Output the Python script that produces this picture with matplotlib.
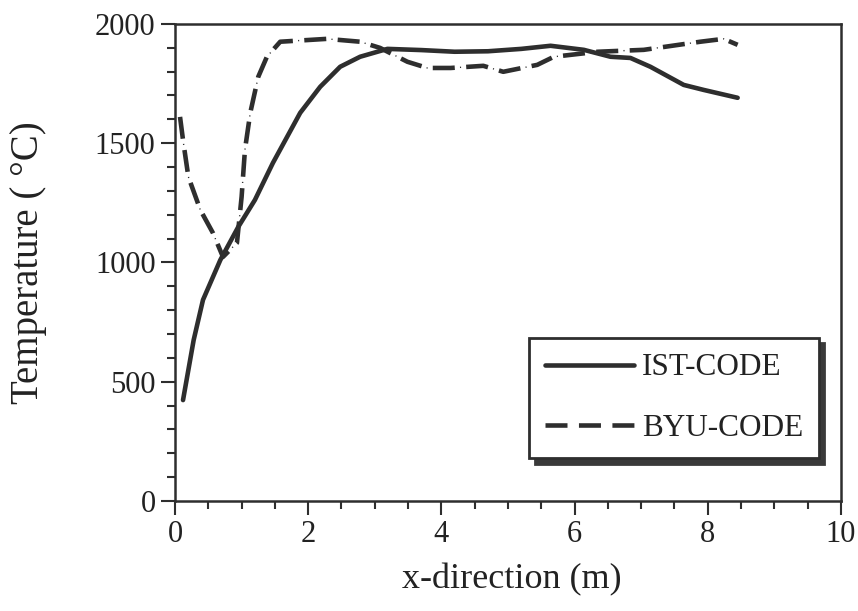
import matplotlib.pyplot as plt
from matplotlib.ticker import MultipleLocator

# IST-CODE (solid)
ist_x = [0.12, 0.28, 0.42, 0.68, 0.95, 1.2, 1.47, 1.88, 2.18, 2.48, 2.78, 3.19,
         3.7, 4.2, 4.7, 5.2, 5.64, 6.14, 6.54, 6.84, 7.14, 7.64, 7.94, 8.45]
ist_y = [423, 675, 843, 1010, 1149, 1262, 1417, 1627, 1736, 1820, 1862, 1895,
         1890, 1883, 1885, 1895, 1908, 1891, 1862, 1857, 1820, 1744, 1723, 1690]

# BYU-CODE (dashed)
byu_x = [0.075, 0.12, 0.2, 0.38, 0.57, 0.72, 0.93, 1.0, 1.05, 1.13, 1.25, 1.38,
         1.58, 2.28, 2.78, 3.08, 3.49, 3.79, 4.14, 4.63, 4.93, 5.44, 5.69, 6.35,
         7.04, 7.89, 8.24, 8.45]
byu_y = [1610, 1513, 1359, 1220, 1123, 1023, 1082, 1275, 1472, 1627, 1778, 1862,
         1925, 1937, 1925, 1899, 1841, 1815, 1815, 1824, 1799, 1828, 1862, 1883,
         1891, 1925, 1937, 1912]

plt.rcParams['font.family'] = ['Liberation Serif', 'DejaVu Serif']
ink = '#2e2e2e'
lw = 3.3

fig = plt.figure(figsize=(8.58, 6.11), dpi=100)
ax = fig.add_axes([0.204, 0.180, 0.776, 0.781])

ax.plot(ist_x, ist_y, color=ink, lw=lw, label='IST-CODE', solid_capstyle='round')
# thick dashes, with a tiny dot sitting in each gap (as in the scan)
ax.plot(byu_x, byu_y, color=ink, lw=lw, linestyle=(0, (4.8, 2.5)), label='BYU-CODE')
period = (4.8 + 2.5) * lw
ax.plot(byu_x, byu_y, color=ink, lw=1.0,
        linestyle=(period - 19.6, (0.8, period - 0.8)), label='_nolegend_')

ax.set_xlim(0, 10)
ax.set_ylim(0, 2000)
ax.xaxis.set_major_locator(MultipleLocator(2))
ax.xaxis.set_minor_locator(MultipleLocator(0.5))
ax.yaxis.set_major_locator(MultipleLocator(500))
ax.yaxis.set_minor_locator(MultipleLocator(100))
ax.tick_params(which='both', direction='out', top=False, right=False,
               colors=ink, width=1.5, labelsize=22, labelcolor='#222')
ax.tick_params(which='major', length=10, pad=4)
ax.tick_params(which='minor', length=5.5)
for s in ax.spines.values():
    s.set_linewidth(1.8)
    s.set_color(ink)

ax.set_xlabel('x-direction (m)', fontsize=26, color='#222')
ax.set_ylabel('Temperature ( °C)', fontsize=28, color='#222')
ax.xaxis.set_label_coords(0.506, -0.13)
ax.yaxis.set_label_coords(-0.192, 0.5)

leg = ax.legend(loc='upper left', bbox_to_anchor=(0.532, 0.342), borderaxespad=0,
                fontsize=22.5, frameon=True, fancybox=False,
                handlelength=2.85, handletextpad=0.25, labelspacing=1.0,
                borderpad=0.5,
                shadow={'ox': 4, 'oy': -4, 'color': '#3a3a3a', 'alpha': 1})
leg.get_frame().set_edgecolor(ink)
leg.get_frame().set_linewidth(2)
for t in leg.get_texts():
    t.set_color('#222')

fig.savefig('out.png', dpi=100)
